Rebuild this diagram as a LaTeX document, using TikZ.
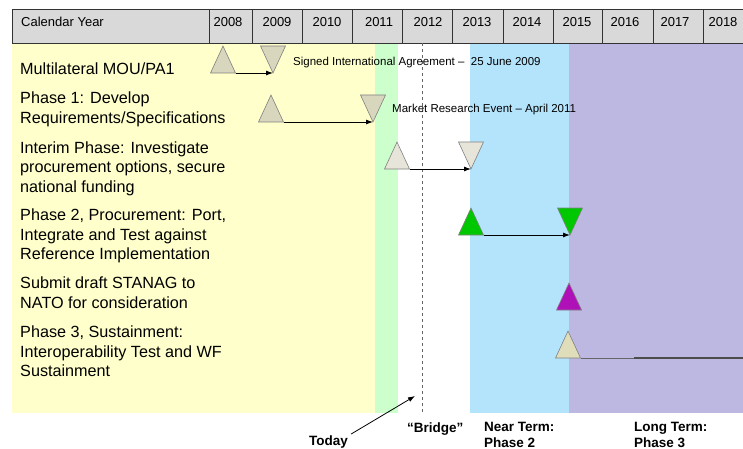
\documentclass[tikz,border=0pt]{standalone}
\usepackage{fontspec}
\setmainfont{Liberation Sans}
\usetikzlibrary{shapes.geometric,arrows.meta}
\definecolor{bgYellow}{RGB}{255,255,204}
\definecolor{bgGreen}{RGB}{204,255,204}
\definecolor{bgBlue}{RGB}{180,228,252}
\definecolor{bgPurple}{RGB}{188,184,226}
\definecolor{hdrGray}{RGB}{217,217,217}
\definecolor{triBeige}{RGB}{217,214,190}
\definecolor{triLight}{RGB}{231,229,218}
\definecolor{triCream}{RGB}{224,222,186}
\definecolor{triGreen}{RGB}{0,200,0}
\definecolor{triPurple}{RGB}{176,16,184}
\tikzset{
  hdr/.style={draw=black!80, fill=hdrGray, line width=0.8pt},
  hdrtxt/.style={font=\fontsize{13}{15}\selectfont, inner sep=0pt, anchor=base},
  rowtxt/.style={font=\fontsize{16.2}{19.3}\selectfont, align=left, inner sep=0pt, anchor=north west},
  note/.style={font=\fontsize{11.5}{13}\selectfont, inner sep=0pt, anchor=base west},
  termtxt/.style={font=\bfseries\fontsize{13.5}{16}\selectfont, align=left, inner sep=0pt},
  ms/.style={isosceles triangle, isosceles triangle stretches, minimum width=25pt,
    minimum height=27pt, inner sep=0pt, outer sep=0pt, draw=black!50, line width=0.6pt, anchor=apex},
  msup/.style={ms, shape border rotate=90},
  msdown/.style={ms, shape border rotate=-90},
  link/.style={draw=black, line width=0.9pt, -{Latex[length=7pt,width=5pt]}}
}
\begin{document}
\begin{tikzpicture}[x=1pt,y=-1pt]
			%%%%% START %%%%%
			\useasboundingbox (0,0) rectangle (743,449);
			
			% phase bands
			\fill[bgYellow] (12,43) rectangle (375,413);
			\fill[bgGreen] (375,43) rectangle (398,413);
			\fill[bgBlue] (470,43) rectangle (569,413);
			\fill[bgPurple] (569,43) rectangle (760,413);
			
			% calendar header
			\draw[hdr] (12,9) rectangle (209,43);
			\node[hdrtxt, anchor=base west] (calYear) at (21,27) {Calendar Year};
			\draw[hdr] (209,9) rectangle (252,43);
			\node[hdrtxt] (y2008) at (228,27) {2008};
			\draw[hdr] (252,9) rectangle (302,43);
			\node[hdrtxt] (y2009) at (277,27) {2009};
			\draw[hdr] (302,9) rectangle (352,43);
			\node[hdrtxt] (y2010) at (327,27) {2010};
			\draw[hdr] (352,9) rectangle (402,43);
			\node[hdrtxt] (y2011) at (379,27) {2011};
			\draw[hdr] (402,9) rectangle (452,43);
			\node[hdrtxt] (y2012) at (428,27) {2012};
			\draw[hdr] (452,9) rectangle (503,43);
			\node[hdrtxt] (y2013) at (477,27) {2013};
			\draw[hdr] (503,9) rectangle (553,43);
			\node[hdrtxt] (y2014) at (527,27) {2014};
			\draw[hdr] (553,9) rectangle (602,43);
			\node[hdrtxt] (y2015) at (577,27) {2015};
			\draw[hdr] (602,9) rectangle (653,43);
			\node[hdrtxt] (y2016) at (625,27) {2016};
			\draw[hdr] (653,9) rectangle (703,43);
			\node[hdrtxt] (y2017) at (675,27) {2017};
			\draw[hdr] (703,9) rectangle (760,43);
			\node[hdrtxt] (y2018) at (723,27) {2018};
			
			% today marker
			\draw[dashed, black!60, line width=0.8pt] (422,43) -- (422,413);
			
			% activities
			\node[rowtxt] (mouTxt) at (20,63) {Multilateral MOU/PA1};
			\node[rowtxt] (phOneTxt) at (20,92) {Phase 1: Develop\\Requirements/Specifications};
			\node[rowtxt] (interTxt) at (20,141.5) {Interim Phase: Investigate\\procurement options, secure\\national funding};
			\node[rowtxt] (phTwoTxt) at (20,209) {Phase 2, Procurement: Port,\\Integrate and Test against\\Reference Implementation};
			\node[rowtxt] (stanagTxt) at (20,277) {Submit draft STANAG to\\NATO for consideration};
			\node[rowtxt] (phThreeTxt) at (20,326) {Phase 3, Sustainment:\\Interoperability Test and WF\\Sustainment};
			
			% milestones
			\node[msup, fill=triBeige] (mouA) at (223,46) {};
			\node[msdown, fill=triBeige] (mouB) at (273,73) {};
			\draw[link] (mouA.right corner) -- (mouB.apex);
			\node[note] (mouNote) at (293,66) {Signed International Agreement --\ \ 25 June 2009};
			
			\node[msup, fill=triBeige] (phOneA) at (271,95) {};
			\node[msdown, fill=triBeige] (phOneB) at (373,122) {};
			\draw[link] (phOneA.right corner) -- (phOneB.apex);
			\node[note] (phOneNote) at (392,113) {Market Research Event -- April 2011};
			
			\node[msup, fill=triLight] (interA) at (397,142) {};
			\node[msdown, fill=triLight] (interB) at (471,169) {};
			\draw[link] (interA.right corner) -- (interB.apex);
			
			\node[msup, fill=triGreen] (phTwoA) at (471,208) {};
			\node[msdown, fill=triGreen] (phTwoB) at (570,235) {};
			\draw[link] (phTwoA.right corner) -- (phTwoB.apex);
			
			\node[msup, fill=triPurple] (stanag) at (569,283) {};
			
			\node[msup, fill=triCream] (phThree) at (568,331) {};
			\coordinate (phThreeMid) at (634,358);
			\coordinate (phThreeEnd) at (760,358);
			\draw[black!60, line width=0.9pt] (phThree.right corner) -- (phThreeMid);
			\draw[black!70, line width=1.5pt] (phThreeMid) -- (phThreeEnd);
			
			% bottom labels
			\node[termtxt, anchor=base west] (today) at (309,445) {Today};
			\coordinate (todayTip) at (415,396);
			\draw[draw=black, line width=0.8pt, -{Latex[length=7pt,width=5pt]}] (today.north east) ++(3,-1) -- (todayTip);
			\node[termtxt, anchor=base west] (bridge) at (407,432) {“Bridge”};
			\node[termtxt, anchor=north west] (nearTerm) at (484,422) {Near Term:\\Phase 2};
			\node[termtxt, anchor=north west] (longTerm) at (634,422) {Long Term:\\Phase 3};
			%%%%% END %%%%%
\end{tikzpicture}
\end{document}
